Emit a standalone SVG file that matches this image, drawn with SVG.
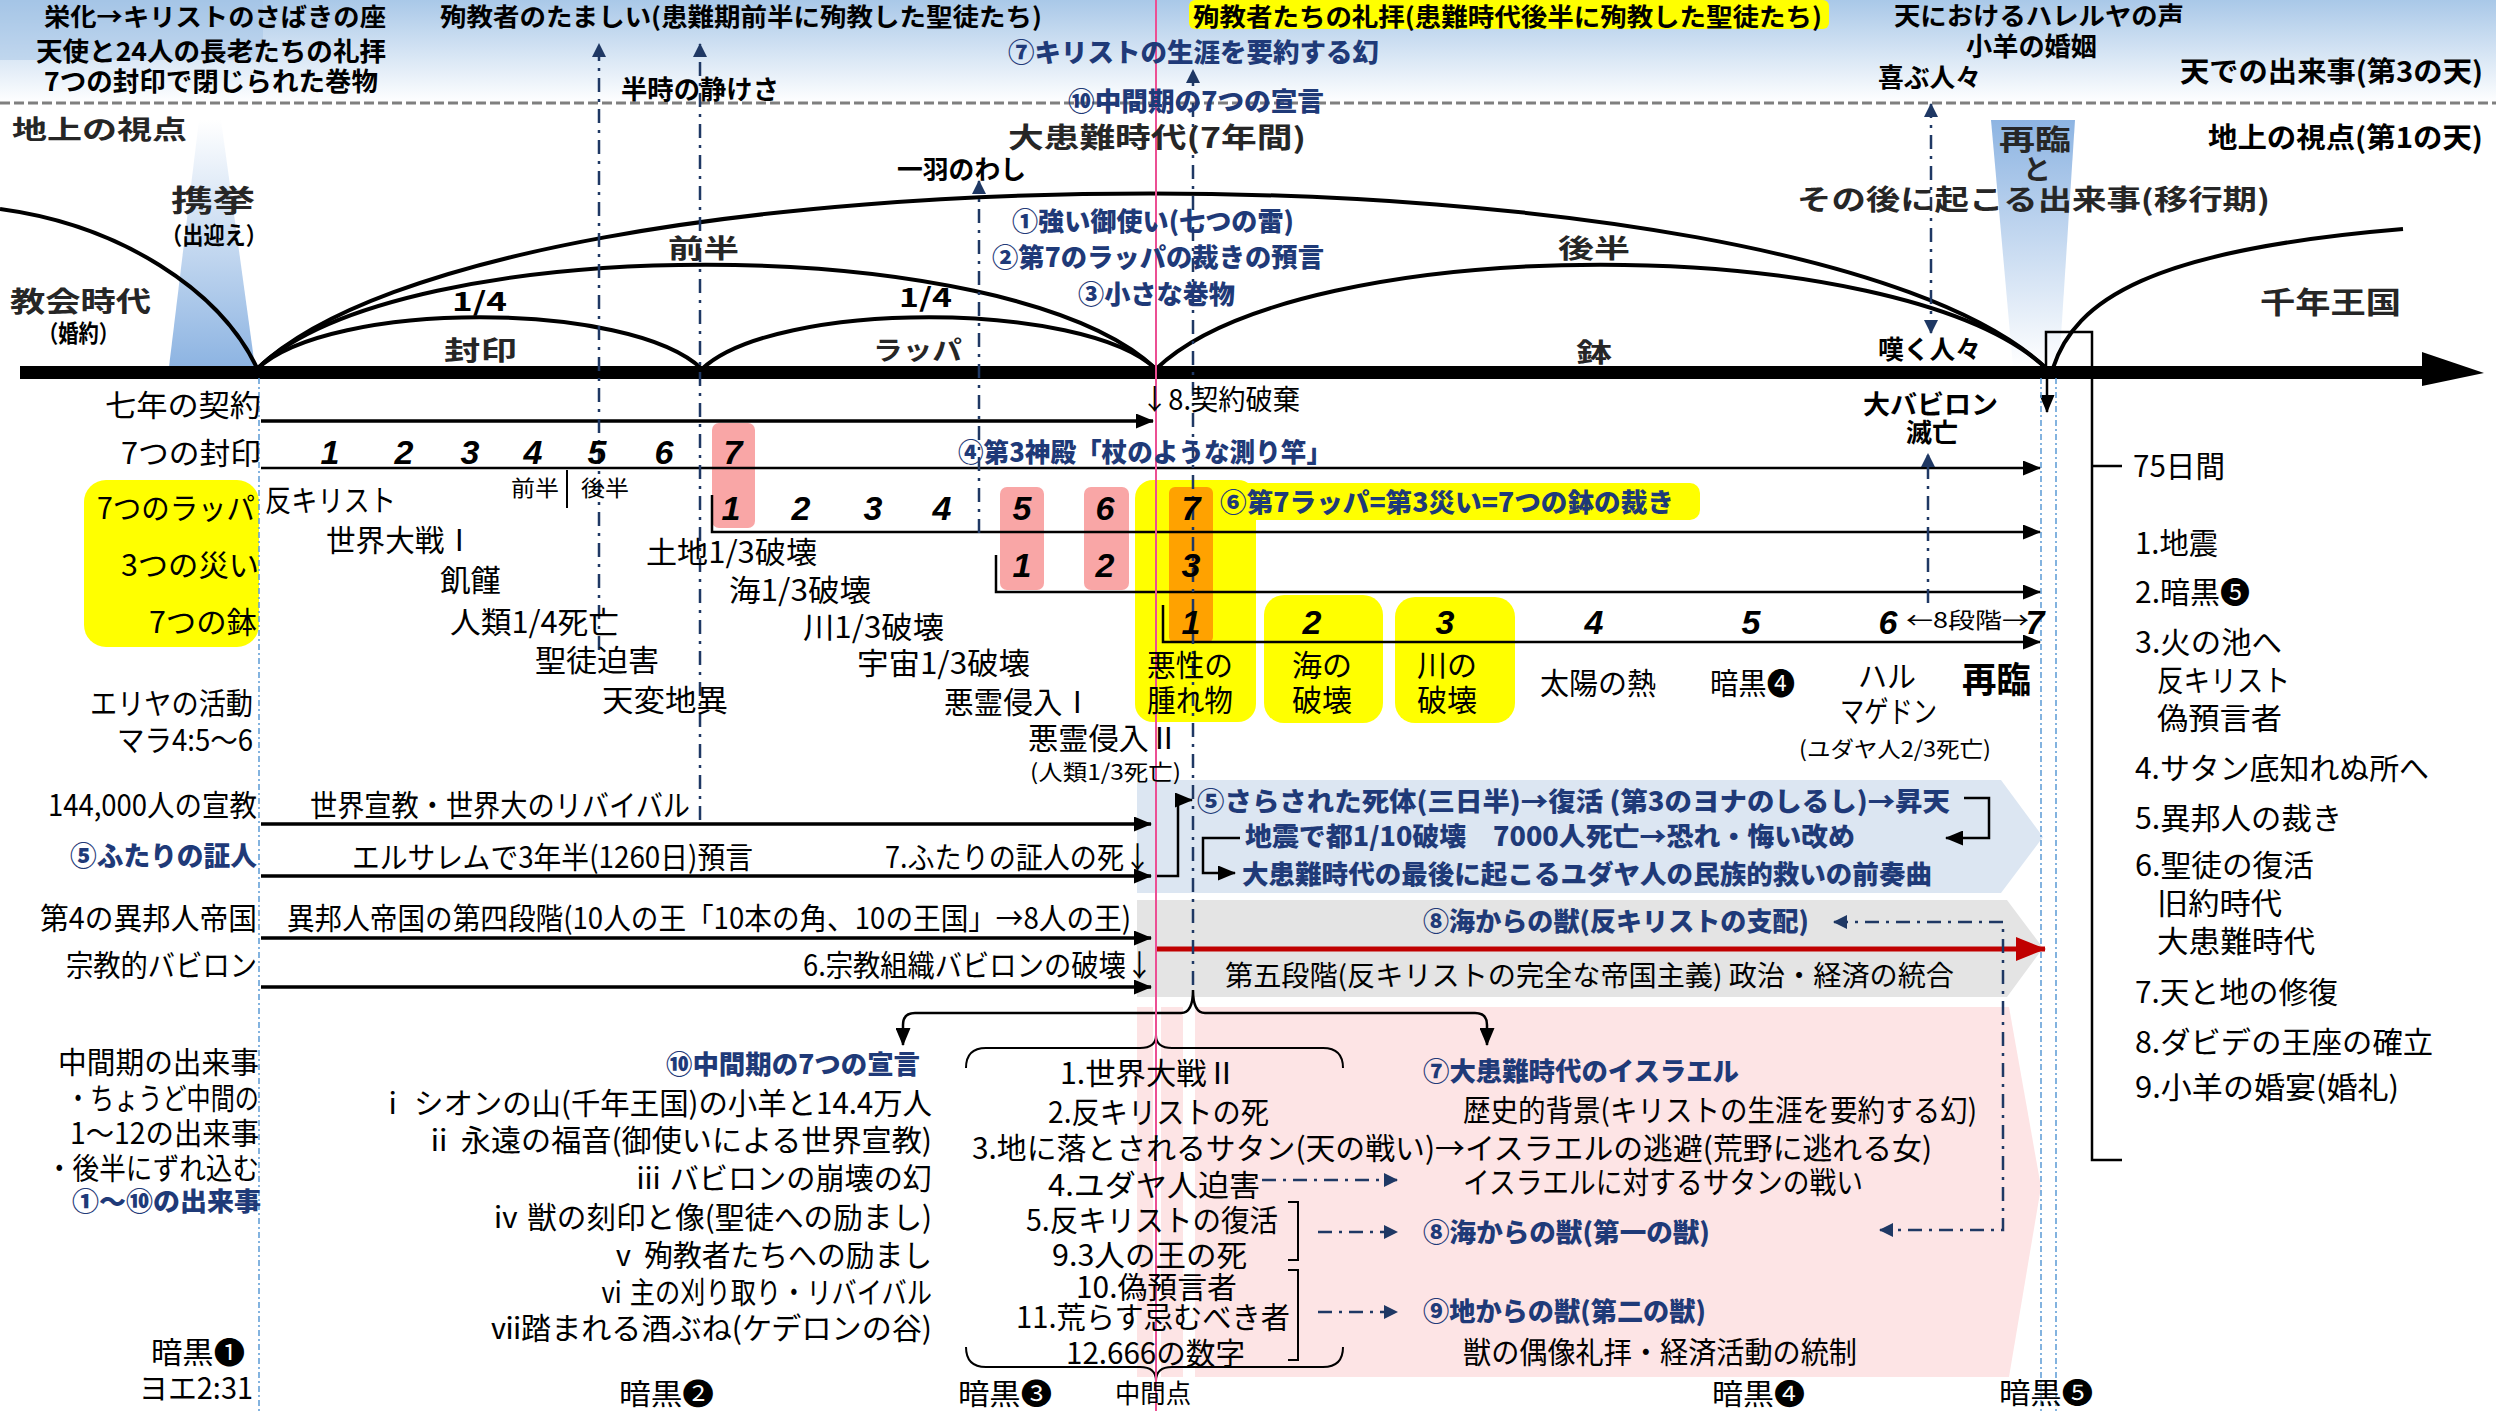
<svg xmlns="http://www.w3.org/2000/svg" width="2496" height="1411" viewBox="0 0 2496 1411">
<style>
text{font-family:"Noto Sans CJK JP","Noto Sans",sans-serif;font-size:30px;fill:#000}
.h{font-size:26px;font-weight:bold}
.top{font-size:25px}
.nv{fill:#1f3a78;font-weight:900}
.s22{font-size:22px}
.num{font-family:"Liberation Sans",sans-serif;font-size:34px;font-weight:bold;font-style:italic;text-anchor:middle}
.mid{text-anchor:middle}
.dd{fill:none;stroke:#1f3864;stroke-width:2.5;stroke-dasharray:14 7 3 7}
.lb{fill:none;stroke:#5b9bd5;stroke-width:1.5;stroke-dasharray:6 3 2 3}
.ln{fill:none;stroke:#000;stroke-width:3.5}
.ln2{fill:none;stroke:#000;stroke-width:2.5}
.thin{fill:none;stroke:#000;stroke-width:2}
.arc{fill:none;stroke:#000;stroke-width:4}
</style>
<defs>
<linearGradient id="sky" x1="0" y1="0" x2="0" y2="1"><stop offset="0" stop-color="#a9c8e8"/><stop offset="1" stop-color="#ffffff"/></linearGradient>
<linearGradient id="beamUp" x1="0" y1="0" x2="0" y2="1"><stop offset="0" stop-color="#ffffff"/><stop offset="1" stop-color="#8db4e2"/></linearGradient>
<linearGradient id="beamDn" x1="0" y1="0" x2="0" y2="1"><stop offset="0" stop-color="#8db4e2"/><stop offset="1" stop-color="#ffffff"/></linearGradient>
<marker id="ab" viewBox="0 0 18 15" refX="17" refY="7.5" markerWidth="18" markerHeight="15" markerUnits="userSpaceOnUse" orient="auto-start-reverse"><path d="M0,0 L18,7.5 L0,15 z" fill="#000"/></marker>
<marker id="an" viewBox="0 0 14 14" refX="13" refY="7" markerWidth="14" markerHeight="14" markerUnits="userSpaceOnUse" orient="auto-start-reverse"><path d="M0,0 L14,7 L0,14 z" fill="#1f3864"/></marker>
<marker id="ar" viewBox="0 0 30 24" refX="29" refY="12" markerWidth="30" markerHeight="24" markerUnits="userSpaceOnUse" orient="auto-start-reverse"><path d="M0,0 L30,12 L0,24 z" fill="#c00000"/></marker>
</defs>
<rect width="2496" height="1411" fill="#fff"/>
<g id="sky-band">
<rect x="0" y="0" width="2496" height="103" fill="url(#sky)"/>
<rect x="0" y="0" width="263" height="60" fill="#9fc2e5" opacity="0.45"/>
<rect x="1189" y="0" width="640" height="29" rx="6" fill="#ffff00"/>
<line x1="0" y1="103" x2="2496" y2="103" stroke="#7f7f7f" stroke-width="3" stroke-dasharray="10 4"/>
</g>
<g id="beams">
<polygon points="199,120 221,120 255,367 169,367" fill="url(#beamUp)"/>
<polygon points="1991,120 2075,120 2059,367 2013,367" fill="url(#beamDn)"/>
</g>
<g id="bands">
<polygon points="1137,780 2001,780 2043,837 2001,893 1137,893" fill="#dce6f2"/>
<polygon points="1137,900 2007,900 2043,948 2007,997 1137,997" fill="#e4e4e4"/>
<polygon points="1137,1007 2009,1007 2041,1187 2009,1377 1137,1377" fill="#fde4e5"/>
<rect x="1153" y="1007" width="8" height="370" fill="#fff"/>
<rect x="1183" y="1007" width="12" height="370" fill="#fff"/>
<rect x="84" y="480" width="175" height="167" rx="22" fill="#ffff00"/>
<rect x="1135" y="480" width="121" height="242" rx="18" fill="#ffff00"/>
<rect x="1218" y="483" width="482" height="37" rx="10" fill="#ffff00"/>
<rect x="1264" y="595" width="119" height="128" rx="20" fill="#ffff00"/>
<rect x="1395" y="597" width="120" height="126" rx="20" fill="#ffff00"/>
<rect x="1169" y="487" width="44" height="156" rx="6" fill="#ffa200"/>
<rect x="712" y="423" width="43" height="105" rx="7" fill="#f9a6a6"/>
<rect x="1000" y="487" width="44" height="103" rx="7" fill="#f9a6a6"/>
<rect x="1084" y="487" width="45" height="103" rx="7" fill="#f9a6a6"/>
</g>
<g id="connectors">
<path class="arc" d="M0 209 C120 225 220 290 257 368" stroke-width="3"/>
<path class="arc" d="M257 369 C500 135 1800 135 2047 369"/>
<path class="arc" d="M257 369 C400 230 1010 230 1156 369"/>
<path class="arc" d="M1156 369 C1300 230 1900 230 2047 369"/>
<path class="arc" d="M257 369 C330 300 630 300 702 369"/>
<path class="arc" d="M702 369 C775 300 1083 300 1156 369"/>
<path class="arc" d="M2053 368 C2075 300 2150 250 2403 229" stroke-width="3"/>
<rect x="20" y="366" width="2405" height="13" fill="#000"/>
<polygon points="2422,352 2484,373 2422,386" fill="#000"/>
<rect x="2046" y="332" width="46" height="40" fill="none" stroke="#000" stroke-width="2.5"/>
<path class="ln2" d="M2092 372 L2092 1160 L2122 1160 M2092 466 L2122 466"/>
<path class="ln2" d="M2047 379 L2047 412" marker-end="url(#ab)"/>
<path class="lb" d="M259 378 L259 1411 M2041 378 L2041 1411 M2056 378 L2056 1411"/>
<path class="ln" d="M261 421 L1153 421" marker-end="url(#ab)"/>
<path class="ln2" d="M261 468 L2040 468" marker-end="url(#ab)"/>
<path class="ln2" d="M712 495 L712 532 L2040 532" marker-end="url(#ab)"/>
<path class="ln2" d="M996 555 L996 592 L2040 592" marker-end="url(#ab)"/>
<path class="ln2" d="M1163 605 L1163 642 L2040 642" marker-end="url(#ab)"/>
<path class="thin" d="M567 470 L567 508"/>
<path class="ln" d="M261 824 L1151 824" marker-end="url(#ab)"/>
<path class="ln" d="M261 876 L1151 876" marker-end="url(#ab)"/>
<path class="ln" d="M261 938 L1151 938" marker-end="url(#ab)"/>
<path class="ln" d="M261 987 L1151 987" marker-end="url(#ab)"/>
<path d="M1156 949 L2045 949" stroke="#c00000" stroke-width="5" fill="none" marker-end="url(#ar)"/>
<path class="ln2" d="M1157 876 L1178 876 L1178 800 L1192 800" marker-end="url(#ab)"/>
<path class="ln2" d="M1964 798 L1989 798 L1989 838 L1946 838" marker-end="url(#ab)"/>
<path class="ln2" d="M1240 838 L1203 838 L1203 873 L1235 873" marker-end="url(#ab)"/>
<path class="ln2" d="M903 1045 L903 1025 Q903 1013 915 1013 L1181 1013 Q1193 1013 1193 990 Q1193 1013 1205 1013 L1475 1013 Q1487 1013 1487 1025 L1487 1045" marker-start="url(#ab)" marker-end="url(#ab)"/>
<path class="thin" d="M966 1068 Q966 1048 986 1048 L1140 1048 Q1156 1048 1156 1035 Q1156 1048 1172 1048 L1323 1048 Q1343 1048 1343 1068"/>
<path class="thin" d="M966 1347 Q966 1367 986 1367 L1140 1367 Q1156 1367 1156 1381 Q1156 1367 1172 1367 L1323 1367 Q1343 1367 1343 1347"/>
<path class="thin" d="M1288 1202 L1298 1202 L1298 1260 L1288 1260 M1288 1270 L1298 1270 L1298 1360 L1288 1360"/>
<path class="dd" d="M599 650 L599 44" marker-end="url(#an)"/>
<path class="dd" d="M700 820 L700 44" marker-end="url(#an)"/>
<path class="dd" d="M979 533 L979 181" marker-end="url(#an)"/>
<path class="dd" d="M1193 985 L1193 70" marker-end="url(#an)"/>
<path class="dd" d="M1931 104 L1931 333" marker-start="url(#an)" marker-end="url(#an)"/>
<path class="dd" d="M1928 603 L1928 454" marker-end="url(#an)"/>
<path class="dd" d="M1262 1180 L1397 1180" marker-end="url(#an)"/>
<path class="dd" d="M1318 1232 L1397 1232" marker-end="url(#an)"/>
<path class="dd" d="M1318 1312 L1397 1312" marker-end="url(#an)"/>
<path class="dd" d="M1834 922 L2003 922 L2003 1230 L1880 1230" marker-start="url(#an)" marker-end="url(#an)"/>
<line x1="1156" y1="0" x2="1156" y2="1411" stroke="#ec4f93" stroke-width="2"/>
</g>
<g id="heaven-texts">
<text class="h top" x="44" y="26" textLength="342" lengthAdjust="spacingAndGlyphs">栄化→キリストのさばきの座</text>
<text class="h" x="36" y="61" textLength="350" lengthAdjust="spacingAndGlyphs">天使と24人の長老たちの礼拝</text>
<text class="h" x="44" y="91" textLength="334" lengthAdjust="spacingAndGlyphs">7つの封印で閉じられた巻物</text>
<text class="h top" x="440" y="26" textLength="602" lengthAdjust="spacingAndGlyphs">殉教者のたましい(患難期前半に殉教した聖徒たち)</text>
<text class="h top" x="1193" y="26" textLength="629" lengthAdjust="spacingAndGlyphs">殉教者たちの礼拝(患難時代後半に殉教した聖徒たち)</text>
<text class="h nv" x="1008" y="62" textLength="371" lengthAdjust="spacingAndGlyphs">⑦キリストの生涯を要約する幻</text>
<text class="h" x="621" y="99" textLength="158" lengthAdjust="spacingAndGlyphs">半時の静けさ</text>
<text class="h nv" x="1068" y="111" textLength="256" lengthAdjust="spacingAndGlyphs">⑩中間期の7つの宣言</text>
<text class="h top" x="1894" y="25" textLength="290" lengthAdjust="spacingAndGlyphs">天におけるハレルヤの声</text>
<text class="h" x="1966" y="56" textLength="131" lengthAdjust="spacingAndGlyphs">小羊の婚姻</text>
<text class="h" x="1878" y="87" textLength="103" lengthAdjust="spacingAndGlyphs">喜ぶ人々</text>
<text class="h" x="2180" y="82" textLength="303" lengthAdjust="spacingAndGlyphs" style="font-size:28px">天での出来事(第3の天)</text>
</g>
<g id="earth-texts">
<text class="h" x="12" y="139" textLength="175" lengthAdjust="spacingAndGlyphs" style="fill:#262626">地上の視点</text>
<text class="h" x="2208" y="148" textLength="275" lengthAdjust="spacingAndGlyphs" style="font-size:28px">地上の視点(第1の天)</text>
<text class="h" x="1008" y="148" textLength="298" lengthAdjust="spacingAndGlyphs" style="font-size:28px;fill:#262626">大患難時代(7年間)</text>
<text class="h" x="897" y="179" textLength="129" lengthAdjust="spacingAndGlyphs">一羽のわし</text>
<text class="h" x="1999" y="150" textLength="72" lengthAdjust="spacingAndGlyphs" style="font-size:28px;fill:#262626">再臨</text>
<text class="h mid" x="2037" y="180" style="font-size:28px;fill:#262626">と</text>
<text class="h" x="1797" y="210" textLength="473" lengthAdjust="spacingAndGlyphs" style="font-size:28px;fill:#262626">その後に起こる出来事(移行期)</text>
<text class="h" x="171" y="211" textLength="84" lengthAdjust="spacingAndGlyphs" style="font-size:30px;fill:#262626">携挙</text>
<text class="h" x="161" y="244" textLength="106" lengthAdjust="spacingAndGlyphs" style="font-size:24px">（出迎え）</text>
<text class="h" x="10" y="312" textLength="141" lengthAdjust="spacingAndGlyphs" style="font-size:28px;fill:#262626">教会時代</text>
<text class="h" x="38" y="342" textLength="81" lengthAdjust="spacingAndGlyphs" style="font-size:24px">（婚約）</text>
<text class="h" x="2260" y="313" textLength="141" lengthAdjust="spacingAndGlyphs" style="font-size:30px;fill:#262626">千年王国</text>
<text class="h" x="668" y="258" textLength="71" lengthAdjust="spacingAndGlyphs" style="fill:#262626">前半</text>
<text class="h" x="452" y="311" textLength="55" lengthAdjust="spacingAndGlyphs">1/4</text>
<text class="h" x="444" y="360" textLength="73" lengthAdjust="spacingAndGlyphs" style="fill:#262626">封印</text>
<text class="h" x="899" y="307" textLength="53" lengthAdjust="spacingAndGlyphs">1/4</text>
<text class="h" x="873" y="360" textLength="89" lengthAdjust="spacingAndGlyphs" style="fill:#262626">ラッパ</text>
<text class="h" x="1558" y="258" textLength="72" lengthAdjust="spacingAndGlyphs" style="fill:#262626">後半</text>
<text class="h" x="1576" y="362" textLength="36" lengthAdjust="spacingAndGlyphs" style="fill:#262626">鉢</text>
<text class="h nv" x="1012" y="231" textLength="282" lengthAdjust="spacingAndGlyphs">①強い御使い(七つの雷)</text>
<text class="h nv" x="992" y="267" textLength="332" lengthAdjust="spacingAndGlyphs">②第7のラッパの裁きの預言</text>
<text class="h nv" x="1078" y="304" textLength="157" lengthAdjust="spacingAndGlyphs">③小さな巻物</text>
<text class="h" x="1878" y="359" textLength="103" lengthAdjust="spacingAndGlyphs">嘆く人々</text>
<text class="h" x="1863" y="414" textLength="135" lengthAdjust="spacingAndGlyphs">大バビロン</text>
<text class="h" x="1906" y="442" textLength="52" lengthAdjust="spacingAndGlyphs">滅亡</text>
</g>
<g id="row-labels">
<text x="105" y="416" textLength="156" lengthAdjust="spacingAndGlyphs">七年の契約</text>
<text x="121" y="464" textLength="140" lengthAdjust="spacingAndGlyphs">7つの封印</text>
<text x="97" y="519" textLength="158" lengthAdjust="spacingAndGlyphs">7つのラッパ</text>
<text x="121" y="576" textLength="138" lengthAdjust="spacingAndGlyphs">3つの災い</text>
<text x="149" y="633" textLength="108" lengthAdjust="spacingAndGlyphs">7つの鉢</text>
<text x="90" y="714" textLength="163" lengthAdjust="spacingAndGlyphs">エリヤの活動</text>
<text x="117" y="751" textLength="136" lengthAdjust="spacingAndGlyphs">マラ4:5～6</text>
<text x="48" y="816" textLength="209" lengthAdjust="spacingAndGlyphs">144,000人の宣教</text>
<text class="h nv" x="70" y="866" textLength="187" lengthAdjust="spacingAndGlyphs" style="font-size:27px">⑤ふたりの証人</text>
<text x="40" y="929" textLength="217" lengthAdjust="spacingAndGlyphs">第4の異邦人帝国</text>
<text x="66" y="976" textLength="191" lengthAdjust="spacingAndGlyphs">宗教的バビロン</text>
<text x="58" y="1073" textLength="201" lengthAdjust="spacingAndGlyphs">中間期の出来事</text>
<text x="66" y="1109" textLength="193" lengthAdjust="spacingAndGlyphs">・ちょうど中間の</text>
<text x="70" y="1144" textLength="189" lengthAdjust="spacingAndGlyphs">1～12の出来事</text>
<text x="46" y="1179" textLength="213" lengthAdjust="spacingAndGlyphs">・後半にずれ込む</text>
<text class="h nv" x="72" y="1211" textLength="189" lengthAdjust="spacingAndGlyphs">①～⑩の出来事</text>
<text x="151" y="1363" textLength="94" lengthAdjust="spacingAndGlyphs">暗黒❶</text>
<text x="139" y="1399" textLength="114" lengthAdjust="spacingAndGlyphs">ヨエ2:31</text>
</g>
<g id="seals">
<text class="num" x="330" y="464">1</text><text class="num" x="404" y="464">2</text><text class="num" x="470" y="464">3</text><text class="num" x="533" y="464">4</text><text class="num" x="597" y="464">5</text><text class="num" x="664" y="464">6</text><text class="num" x="733" y="464">7</text>
<text class="s22" x="511" y="496" textLength="48" lengthAdjust="spacingAndGlyphs">前半</text>
<text class="s22" x="581" y="496" textLength="48" lengthAdjust="spacingAndGlyphs">後半</text>
<text x="265" y="511" textLength="131" lengthAdjust="spacingAndGlyphs">反キリスト</text>
<text x="326" y="551" textLength="148" lengthAdjust="spacingAndGlyphs">世界大戦Ⅰ</text>
<text x="440" y="591" textLength="61" lengthAdjust="spacingAndGlyphs">飢饉</text>
<text x="450" y="633" textLength="169" lengthAdjust="spacingAndGlyphs">人類1/4死亡</text>
<text x="535" y="671" textLength="124" lengthAdjust="spacingAndGlyphs">聖徒迫害</text>
<text x="602" y="711" textLength="126" lengthAdjust="spacingAndGlyphs">天変地異</text>
<text style="font-size:28px" x="1141" y="410" textLength="159" lengthAdjust="spacingAndGlyphs">↓8.契約破棄</text>
<text class="h nv" x="958" y="462" textLength="374" lengthAdjust="spacingAndGlyphs">④第3神殿「杖のような測り竿」</text>
</g>
<g id="trumpets">
<text class="num" x="731" y="520">1</text><text class="num" x="801" y="520">2</text><text class="num" x="873" y="520">3</text><text class="num" x="942" y="520">4</text><text class="num" x="1022" y="520">5</text><text class="num" x="1105" y="520">6</text><text class="num" x="1191" y="520">7</text>
<text class="num" x="1022" y="577">1</text><text class="num" x="1105" y="577">2</text><text class="num" x="1191" y="577">3</text>
<text class="h nv" x="1220" y="512" textLength="454" lengthAdjust="spacingAndGlyphs">⑥第7ラッパ=第3災い=7つの鉢の裁き</text>
<text x="646" y="563" textLength="171" lengthAdjust="spacingAndGlyphs">土地1/3破壊</text>
<text x="729" y="601" textLength="142" lengthAdjust="spacingAndGlyphs">海1/3破壊</text>
<text x="803" y="638" textLength="141" lengthAdjust="spacingAndGlyphs">川1/3破壊</text>
<text x="857" y="674" textLength="173" lengthAdjust="spacingAndGlyphs">宇宙1/3破壊</text>
<text x="944" y="713" textLength="148" lengthAdjust="spacingAndGlyphs">悪霊侵入Ⅰ</text>
<text x="1028" y="749" textLength="151" lengthAdjust="spacingAndGlyphs">悪霊侵入Ⅱ</text>
<text class="s22" x="1030" y="780" textLength="151" lengthAdjust="spacingAndGlyphs">(人類1/3死亡)</text>
</g>
<g id="bowls">
<text class="num" x="1191" y="634">1</text><text class="num" x="1312" y="634">2</text><text class="num" x="1445" y="634">3</text><text class="num" x="1594" y="634">4</text><text class="num" x="1751" y="634">5</text><text class="num" x="1888" y="634">6</text><text class="num" x="2035" y="634">7</text>
<text class="s22" x="1906" y="628" textLength="123" lengthAdjust="spacingAndGlyphs">←8段階→</text>
<text x="1147" y="676" textLength="86" lengthAdjust="spacingAndGlyphs">悪性の</text>
<text x="1147" y="711" textLength="86" lengthAdjust="spacingAndGlyphs">腫れ物</text>
<text class="mid" x="1322" y="676">海の</text><text class="mid" x="1322" y="711">破壊</text>
<text class="mid" x="1447" y="676">川の</text><text class="mid" x="1447" y="711">破壊</text>
<text x="1540" y="694" textLength="116" lengthAdjust="spacingAndGlyphs">太陽の熱</text>
<text x="1710" y="694" textLength="85" lengthAdjust="spacingAndGlyphs">暗黒❹</text>
<text x="1858" y="687" textLength="58" lengthAdjust="spacingAndGlyphs">ハル</text>
<text x="1840" y="722" textLength="97" lengthAdjust="spacingAndGlyphs">マゲドン</text>
<text class="s22" x="1799" y="757" textLength="192" lengthAdjust="spacingAndGlyphs">(ユダヤ人2/3死亡)</text>
<text class="h" x="1962" y="693" textLength="69" lengthAdjust="spacingAndGlyphs" style="font-size:36px">再臨</text>
</g>
<g id="witnesses-empire">
<text x="310" y="816" textLength="380" lengthAdjust="spacingAndGlyphs">世界宣教・世界大のリバイバル</text>
<text x="352" y="868" textLength="401" lengthAdjust="spacingAndGlyphs">エルサレムで3年半(1260日)預言</text>
<text x="885" y="868" textLength="266" lengthAdjust="spacingAndGlyphs">7.ふたりの証人の死↓</text>
<text x="287" y="929" textLength="844" lengthAdjust="spacingAndGlyphs">異邦人帝国の第四段階(10人の王「10本の角、10の王国」→8人の王)</text>
<text x="803" y="976" textLength="350" lengthAdjust="spacingAndGlyphs">6.宗教組織バビロンの破壊↓</text>
<text style="font-size:28px" x="1225" y="986" textLength="729" lengthAdjust="spacingAndGlyphs">第五段階(反キリストの完全な帝国主義) 政治・経済の統合</text>
<text class="h nv" x="1423" y="931" textLength="386" lengthAdjust="spacingAndGlyphs">⑧海からの獣(反キリストの支配)</text>
<text class="h nv" x="1197" y="811" textLength="753" lengthAdjust="spacingAndGlyphs">⑤さらされた死体(三日半)→復活 (第3のヨナのしるし)→昇天</text>
<text class="h nv" x="1245" y="846" textLength="610" lengthAdjust="spacingAndGlyphs">地震で都1/10破壊　7000人死亡→恐れ・悔い改め</text>
<text class="h nv" x="1242" y="884" textLength="690" lengthAdjust="spacingAndGlyphs">大患難時代の最後に起こるユダヤ人の民族的救いの前奏曲</text>
</g>
<g id="declarations">
<text class="h nv" x="666" y="1074" textLength="254" lengthAdjust="spacingAndGlyphs">⑩中間期の7つの宣言</text>
<text x="378" y="1114" textLength="554" lengthAdjust="spacingAndGlyphs">ⅰ シオンの山(千年王国)の小羊と14.4万人</text>
<text x="424" y="1151" textLength="508" lengthAdjust="spacingAndGlyphs">ⅱ 永遠の福音(御使いによる世界宣教)</text>
<text x="634" y="1189" textLength="298" lengthAdjust="spacingAndGlyphs">ⅲ バビロンの崩壊の幻</text>
<text x="491" y="1228" textLength="441" lengthAdjust="spacingAndGlyphs">ⅳ 獣の刻印と像(聖徒への励まし)</text>
<text x="609" y="1266" textLength="323" lengthAdjust="spacingAndGlyphs">ⅴ 殉教者たちへの励まし</text>
<text x="599" y="1303" textLength="333" lengthAdjust="spacingAndGlyphs">ⅵ 主の刈り取り・リバイバル</text>
<text x="491" y="1339" textLength="441" lengthAdjust="spacingAndGlyphs">ⅶ踏まれる酒ぶね(ケデロンの谷)</text>
</g>
<g id="midpoint-events">
<text x="1060" y="1084" textLength="177" lengthAdjust="spacingAndGlyphs">1.世界大戦Ⅱ</text>
<text x="1048" y="1123" textLength="221" lengthAdjust="spacingAndGlyphs">2.反キリストの死</text>
<text x="972" y="1159" textLength="960" lengthAdjust="spacingAndGlyphs">3.地に落とされるサタン(天の戦い)→イスラエルの逃避(荒野に逃れる女)</text>
<text x="1048" y="1196" textLength="212" lengthAdjust="spacingAndGlyphs">4.ユダヤ人迫害</text>
<text x="1026" y="1231" textLength="252" lengthAdjust="spacingAndGlyphs">5.反キリストの復活</text>
<text x="1052" y="1266" textLength="195" lengthAdjust="spacingAndGlyphs">9.3人の王の死</text>
<text x="1076" y="1298" textLength="161" lengthAdjust="spacingAndGlyphs">10.偽預言者</text>
<text x="1016" y="1328" textLength="274" lengthAdjust="spacingAndGlyphs">11.荒らす忌むべき者</text>
<text x="1066" y="1364" textLength="179" lengthAdjust="spacingAndGlyphs">12.666の数字</text>
</g>
<g id="israel">
<text class="h nv" x="1423" y="1081" textLength="316" lengthAdjust="spacingAndGlyphs">⑦大患難時代のイスラエル</text>
<text x="1463" y="1121" textLength="514" lengthAdjust="spacingAndGlyphs">歴史的背景(キリストの生涯を要約する幻)</text>
<text x="1463" y="1193" textLength="400" lengthAdjust="spacingAndGlyphs">イスラエルに対するサタンの戦い</text>
<text class="h nv" x="1423" y="1242" textLength="287" lengthAdjust="spacingAndGlyphs">⑧海からの獣(第一の獣)</text>
<text class="h nv" x="1423" y="1321" textLength="283" lengthAdjust="spacingAndGlyphs">⑨地からの獣(第二の獣)</text>
<text x="1463" y="1363" textLength="394" lengthAdjust="spacingAndGlyphs">獣の偶像礼拝・経済活動の統制</text>
</g>
<g id="darkness">
<text style="font-size:29px" x="619" y="1405" textLength="95" lengthAdjust="spacingAndGlyphs">暗黒❷</text>
<text style="font-size:29px" x="958" y="1405" textLength="94" lengthAdjust="spacingAndGlyphs">暗黒❸</text>
<text style="font-size:26px" x="1115" y="1403" textLength="76" lengthAdjust="spacingAndGlyphs">中間点</text>
<text style="font-size:29px" x="1712" y="1405" textLength="93" lengthAdjust="spacingAndGlyphs">暗黒❹</text>
<text style="font-size:29px" x="1999" y="1404" textLength="94" lengthAdjust="spacingAndGlyphs">暗黒❺</text>
</g>
<g id="seventy-five-days">
<text x="2133" y="477" textLength="92" lengthAdjust="spacingAndGlyphs">75日間</text>
<text x="2135" y="554" textLength="83" lengthAdjust="spacingAndGlyphs">1.地震</text>
<text x="2135" y="603" textLength="115" lengthAdjust="spacingAndGlyphs">2.暗黒❺</text>
<text x="2135" y="653" textLength="147" lengthAdjust="spacingAndGlyphs">3.火の池へ</text>
<text x="2157" y="691" textLength="133" lengthAdjust="spacingAndGlyphs">反キリスト</text>
<text x="2157" y="729" textLength="125" lengthAdjust="spacingAndGlyphs">偽預言者</text>
<text x="2135" y="779" textLength="294" lengthAdjust="spacingAndGlyphs">4.サタン底知れぬ所へ</text>
<text x="2135" y="829" textLength="207" lengthAdjust="spacingAndGlyphs">5.異邦人の裁き</text>
<text x="2135" y="876" textLength="179" lengthAdjust="spacingAndGlyphs">6.聖徒の復活</text>
<text x="2157" y="914" textLength="125" lengthAdjust="spacingAndGlyphs">旧約時代</text>
<text x="2157" y="952" textLength="158" lengthAdjust="spacingAndGlyphs">大患難時代</text>
<text x="2135" y="1003" textLength="203" lengthAdjust="spacingAndGlyphs">7.天と地の修復</text>
<text x="2135" y="1053" textLength="298" lengthAdjust="spacingAndGlyphs">8.ダビデの王座の確立</text>
<text x="2135" y="1098" textLength="264" lengthAdjust="spacingAndGlyphs">9.小羊の婚宴(婚礼)</text>
</g>
</svg>
